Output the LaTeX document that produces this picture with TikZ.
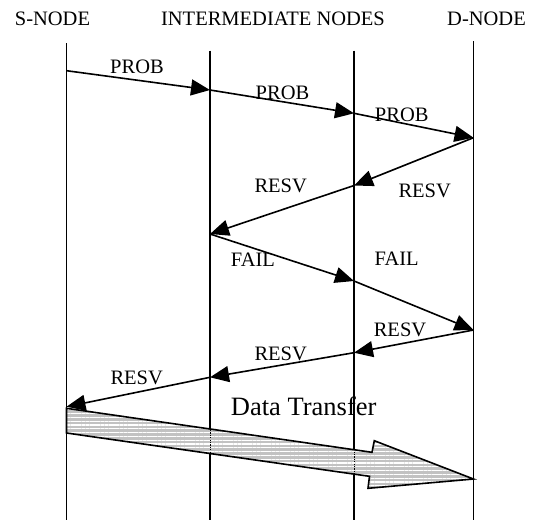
\documentclass[tikz,border=0pt]{standalone}
\usepackage{fontspec}
\setmainfont{Liberation Serif}
\usetikzlibrary{arrows.meta,patterns.meta}
\begin{document}
\begin{tikzpicture}[x=1pt,y=-1pt,
  lifeline/.style={line width=1.6pt},
  msg/.style={line width=1.6pt,-{Triangle[length=19pt,width=16pt]}},
  lbl/.style={inner sep=0pt,font=\fontsize{20.5}{24}\selectfont},
  biglbl/.style={inner sep=0pt,font=\fontsize{26.5}{30}\selectfont},
  bodyfill/.style={fill=black!24},
  stripes/.style={pattern={Lines[angle=0,distance=3.8pt,line width=1.2pt]},pattern color=white},
  crossing/.style={line width=0.8pt,dash pattern=on 1.2pt off 1.2pt}]
\useasboundingbox (0,0) rectangle (534,520);

% column headings
\node[lbl] (hS) at (52.5,19.3) {S-NODE};
\node[lbl] (hI) at (273,19.3) {INTERMEDIATE NODES};
\node[lbl] (hD) at (486.5,19.3) {D-NODE};

% lifeline end points
\coordinate (sTop) at (66.5,43);   \coordinate (sBot) at (66.5,520);
\coordinate (aTop) at (210,50.7);  \coordinate (aBot) at (210,520);
\coordinate (bTop) at (354,50.7);  \coordinate (bBot) at (354,520);
\coordinate (dTop) at (473.5,41);  \coordinate (dBot) at (473.5,520);

\draw[lifeline] (sTop) -- (sBot);
\draw[lifeline] (aTop) -- (aBot);
\draw[lifeline] (bTop) -- (bBot);
\draw[lifeline] (dTop) -- (dBot);

% data transfer block arrow
\coordinate (t1) at (66.5,408.3);
\coordinate (t2) at (372,452.3);
\coordinate (t3) at (374.3,440.7);
\coordinate (t4) at (473.5,479);
\coordinate (t5) at (368,488.3);
\coordinate (t6) at (369.5,476.3);
\coordinate (t7) at (66.5,433);
\def\blockpath{(t1) -- (t2) -- (t3) -- (t4) -- (t5) -- (t6) -- (t7) -- cycle}
\fill[bodyfill] \blockpath;
\fill[stripes] \blockpath;
\begin{scope}
  \clip \blockpath;
  \draw[crossing] (aTop) -- (aBot);
  \draw[crossing] (bTop) -- (bBot);
\end{scope}
\draw[line width=1.6pt,line join=miter] \blockpath;

% message events on the lifelines
\coordinate (s1) at (66.5,70.7);
\coordinate (a1) at (210,90);
\coordinate (b1) at (354,113.3);
\coordinate (d1) at (473.5,137.7);
\coordinate (b2) at (354,185.5);
\coordinate (a2) at (210,234);
\coordinate (b3) at (354,281);
\coordinate (d2) at (473.5,330);
\coordinate (b4) at (354,352.7);
\coordinate (a3) at (210,377.3);
\coordinate (s2) at (66.5,406.7);

\draw[msg] (s1) -- (a1);
\draw[msg] (a1) -- (b1);
\draw[msg] (b1) -- (d1);
\draw[msg] (d1) -- (b2);
\draw[msg] (b2) -- (a2);
\draw[msg] (a2) -- (b3);
\draw[msg] (b3) -- (d2);
\draw[msg] (d2) -- (b4);
\draw[msg] (b4) -- (a3);
\draw[msg] (a3) -- (s2);

% message labels
\node[lbl] (p1) at (137,66.7) {PROB};
\node[lbl] (p2) at (282.5,92.5) {PROB};
\node[lbl] (p3) at (401.7,115) {PROB};
\node[lbl] (r1) at (424.7,190.7) {RESV};
\node[lbl] (r2) at (280.7,186) {RESV};
\node[lbl] (f1) at (253,259.3) {FAIL};
\node[lbl] (f2) at (396.7,258.3) {FAIL};
\node[lbl] (r3) at (400,330) {RESV};
\node[lbl] (r4) at (280.7,354) {RESV};
\node[lbl] (r5) at (136.7,378.3) {RESV};
\node[biglbl] (dt) at (303.7,406.5) {Data Transfer};
\end{tikzpicture}
\end{document}
